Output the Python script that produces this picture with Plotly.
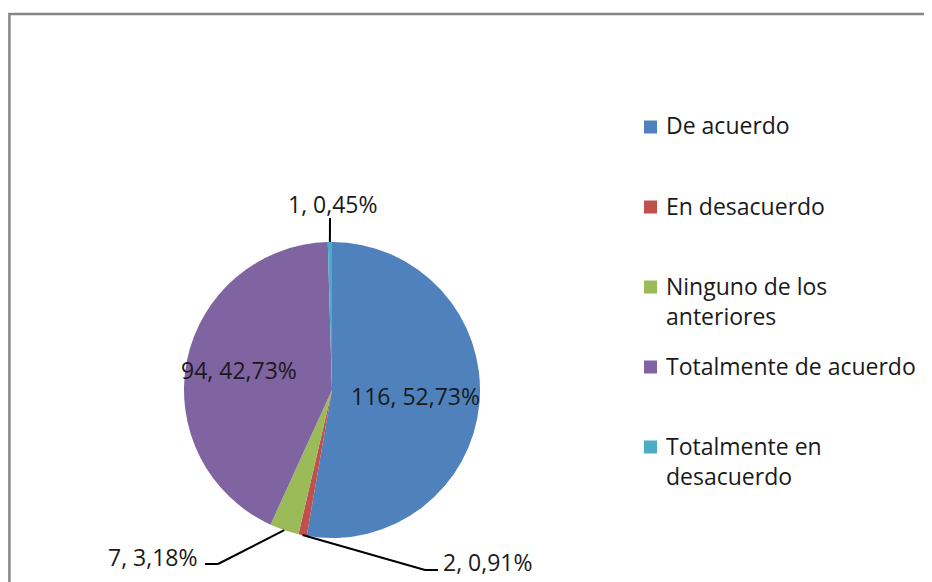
import math
import plotly.graph_objects as go

# ---- data ----
categories = ["De acuerdo", "En desacuerdo", "Ninguno de los anteriores",
              "Totalmente de acuerdo", "Totalmente en desacuerdo"]
legend_labels = ["De acuerdo", "En desacuerdo", "Ninguno de los<br>anteriores",
                 "Totalmente de acuerdo", "Totalmente en<br>desacuerdo"]
values = [116, 2, 7, 94, 1]
colors = ["#4F81BD", "#C0504D", "#9BBB59", "#8064A2", "#4BACC6"]

W, H = 932, 582
OFF = 8            # page body offset of the rendered figure
CX, CY, R = 332, 390, 148
FONT = "Open Sans"
FS = 23
INK = "#1a1a1a"


def paper(x, y):
    return (x - OFF) / W, 1 - (y - OFF) / H


total = sum(values)
pcts = [v / total * 100 for v in values]
texts = [f"{v}, {p:.2f}".replace(".", ",") + "%" for v, p in zip(values, pcts)]

dx0, dy0 = paper(CX - R, CY + R)
dx1, dy1 = paper(CX + R, CY - R)

fig = go.Figure()
fig.add_trace(go.Pie(
    labels=categories, values=values, sort=False, direction="clockwise", rotation=0,
    marker=dict(colors=colors, line=dict(width=0)),
    textinfo="none", hoverinfo="label+value+percent",
    domain=dict(x=[dx0, dx1], y=[dy0, dy1]),
    showlegend=False,
))

# slice mid angles (clockwise from top)
mids = []
cum = 0
for v in values:
    mids.append((cum + v / 2) / total * 2 * math.pi)
    cum += v


def pt(angle, r):
    return CX + r * math.sin(angle), CY - r * math.cos(angle)


annotations = []
shapes = []
font = dict(family=FONT, size=FS, color=INK)

# inside labels for big slices (radial position as a fraction of radius)
inside = {0: 0.565, 3: 0.64}
for i, frac in inside.items():
    x, y = pt(mids[i], frac * R)
    px_, py_ = paper(x, y - 1)
    annotations.append(dict(x=px_, y=py_, xref="paper", yref="paper", text=texts[i],
                            showarrow=False, font=font, xanchor="center", yanchor="middle"))

# outside labels with leader lines
outside = {
    4: dict(path=[(330, 218)], text_at=(333, 204), anchor="center"),
    2: dict(path=[(218, 564), (205, 564)], text_at=(200, 557), anchor="right"),
    1: dict(path=[(425, 570), (438, 570)], text_at=(441, 562), anchor="left"),
}
for i, spec in outside.items():
    pts = [pt(mids[i], R)] + spec["path"]
    for (x0, y0), (x1, y1) in zip(pts[:-1], pts[1:]):
        a0 = paper(x0, y0)
        a1 = paper(x1, y1)
        shapes.append(dict(type="line", xref="paper", yref="paper",
                           x0=a0[0], y0=a0[1], x1=a1[0], y1=a1[1],
                           line=dict(color="black", width=2)))
    tx, ty = paper(*spec["text_at"])
    annotations.append(dict(x=tx, y=ty, xref="paper", yref="paper", text=texts[i],
                            showarrow=False, font=font, xanchor=spec["anchor"],
                            yanchor="middle"))

# legend (Excel style: swatch + wrapped label, fixed 80px pitch)
LEG_X, LEG_Y0, LEG_STEP, LINE = 644, 127, 80, 30
for k, (lab, col) in enumerate(zip(legend_labels, colors)):
    yc = LEG_Y0 + k * LEG_STEP
    s0 = paper(LEG_X, yc - 6.5)
    s1 = paper(LEG_X + 13, yc + 6.5)
    shapes.append(dict(type="rect", xref="paper", yref="paper",
                       x0=s0[0], y0=s0[1], x1=s1[0], y1=s1[1],
                       line=dict(width=0), fillcolor=col))
    nlines = lab.count("<br>") + 1
    tx, ty = paper(LEG_X + 20, yc - 1.5 + (nlines - 1) * LINE / 2)
    annotations.append(dict(x=tx, y=ty, xref="paper", yref="paper", text=lab,
                            showarrow=False, font=font, xanchor="left",
                            yanchor="middle", align="left"))

# chart-area border
bx0, by1 = paper(9.4, 14)
shapes.append(dict(type="rect", xref="paper", yref="paper", x0=bx0, y0=-0.05,
                   x1=1.05, y1=by1, line=dict(color="#878787", width=2.5),
                   fillcolor="rgba(0,0,0,0)"))

fig.update_layout(
    width=W, height=H, margin=dict(l=0, r=0, t=0, b=0),
    paper_bgcolor="white", plot_bgcolor="white",
    showlegend=False,
    annotations=annotations, shapes=shapes,
)

fig.write_html("out.html")
